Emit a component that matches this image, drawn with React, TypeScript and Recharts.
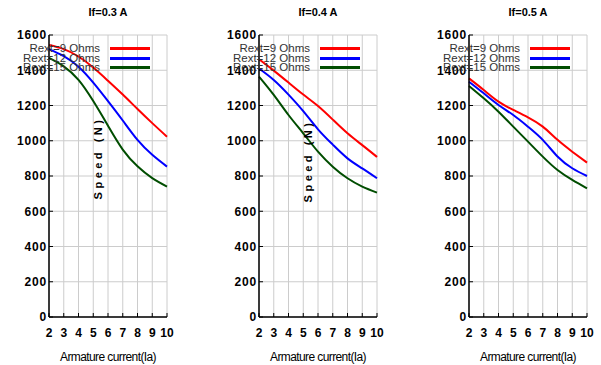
import React from 'react';
import { LineChart, Line, XAxis, YAxis, CartesianGrid, Legend } from 'recharts';

const currents = [2, 3, 4, 5, 6, 7, 8, 9, 10];
const seriesNames = ['Rext=9 Ohms', 'Rext=12 Ohms', 'Rext=15 Ohms'];
const seriesColors = ['#ff0000', '#0000ff', '#004d00'];
const panelTitles = ['If=0.3 A', 'If=0.4 A', 'If=0.5 A'];
const yTicks = [0, 200, 400, 600, 800, 1000, 1200, 1400, 1600];

const if03r9 = [1543, 1520, 1478, 1415, 1340, 1262, 1180, 1100, 1023];
const if03r12 = [1520, 1480, 1420, 1330, 1225, 1115, 1005, 920, 853];
const if03r15 = [1470, 1422, 1345, 1225, 1085, 950, 855, 788, 740];

const if04r9 = [1462, 1398, 1330, 1262, 1197, 1120, 1042, 975, 908];
const if04r12 = [1410, 1345, 1262, 1168, 1065, 978, 900, 843, 787];
const if04r15 = [1364, 1260, 1146, 1042, 938, 853, 787, 740, 706];

const if05r9 = [1354, 1288, 1222, 1175, 1133, 1080, 1005, 938, 876];
const if05r12 = [1335, 1269, 1203, 1146, 1080, 1005, 911, 844, 800];
const if05r15 = [1311, 1241, 1165, 1080, 995, 910, 834, 778, 730];

const panelSeries = [
  [if03r9, if03r12, if03r15],
  [if04r9, if04r12, if04r15],
  [if05r9, if05r12, if05r15],
];

const FONT = '"Liberation Sans", Arial, sans-serif';

function buildData(series: number[][]) {
  return currents.map((x, i) => ({ x, s0: series[0][i], s1: series[1][i], s2: series[2][i] }));
}

const LegendContent = () => (
  <div style={{ position: 'relative', width: 160, height: 32 }}>
    {seriesNames.map((name, i) => (
      <div key={name} style={{ position: 'absolute', top: i * 9.7, left: 0, width: 160, height: 12 }}>
        <div
          style={{
            position: 'absolute', left: 0, top: 0, width: 100, textAlign: 'right',
            fontFamily: FONT, fontSize: 11.5, color: '#333', lineHeight: '12px', whiteSpace: 'nowrap',
          }}
        >
          {name}
        </div>
        <div style={{ position: 'absolute', left: 110, top: 5, width: 40, height: 3, background: seriesColors[i] }} />
      </div>
    ))}
  </div>
);

const axisLine = { stroke: '#000', strokeWidth: 1.5 };
const tickLine = { stroke: '#000', strokeWidth: 1 };

const Panel = ({ idx, left }: { idx: number; left: number }) => {
  const data = buildData(panelSeries[idx]);
  return (
    <div style={{ position: 'absolute', left, top: 0 }}>
      <LineChart width={185} height={365} data={data} margin={{ top: 35, right: 18, left: 0, bottom: 0 }}>
        <CartesianGrid stroke="#cccccc" strokeWidth={1} vertical horizontal />
        <XAxis
          dataKey="x"
          type="number"
          domain={[2, 10]}
          ticks={currents}
          height={48}
          axisLine={axisLine}
          tickLine={tickLine}
          tickSize={-4}
          tickMargin={15}
          tick={{ fill: '#000', fontSize: 12, fontWeight: 'bold', fontFamily: FONT }}
          interval={0}
          label={{ value: 'Armature current(Ia)', position: 'insideBottom', offset: 4, fill: '#000', fontSize: 12, fontFamily: FONT, letterSpacing: -0.6 }}
        />
        <XAxis
          xAxisId="top"
          orientation="top"
          dataKey="x"
          type="number"
          domain={[2, 10]}
          ticks={currents}
          interval={0}
          height={0}
          tick={false}
          tickSize={-4}
          tickLine={tickLine}
          axisLine={axisLine}
        />
        <YAxis
          domain={[0, 1600]}
          ticks={yTicks}
          width={49}
          axisLine={axisLine}
          tickLine={tickLine}
          tickSize={-4}
          tickMargin={6}
          tick={{ fill: '#000', fontSize: 12, fontWeight: 'bold', fontFamily: FONT, letterSpacing: 0.8 }}
          interval={0}
        />
        <YAxis
          yAxisId="right"
          orientation="right"
          domain={[0, 1600]}
          ticks={yTicks}
          interval={0}
          width={0}
          tick={false}
          tickSize={-4}
          tickLine={tickLine}
          axisLine={axisLine}
        />
        <Legend
          verticalAlign="middle"
          align="center"
          layout="horizontal"
          content={<LegendContent />}
          wrapperStyle={{ position: 'absolute', left: 0, top: 42, width: 160, height: 32 }}
        />
        {seriesNames.map((name, i) => (
          <Line
            key={name}
            dataKey={`s${i}`}
            name={name}
            type="natural"
            stroke={seriesColors[i]}
            strokeWidth={2}
            dot={false}
            isAnimationActive={false}
          />
        ))}
      </LineChart>
    </div>
  );
};

export default function App() {
  const lefts = [0, 210, 420];
  return (
    <div style={{ position: 'fixed', left: 0, top: 0, width: 601, height: 365, background: '#fff', overflow: 'hidden' }}>
      {lefts.map((l, i) => (
        <Panel key={i} idx={i} left={l} />
      ))}
      {lefts.map((l, i) => (
        <div
          key={'t' + i}
          style={{ position: 'absolute', left: l + 49, width: 118, top: 6, textAlign: 'center', fontFamily: FONT, fontSize: 11, fontWeight: 'bold', color: '#000' }}
        >
          {panelTitles[i]}
        </div>
      ))}
      {[0, 1].map((i) => (
        <div
          key={'s' + i}
          style={{
            position: 'absolute', left: lefts[i] + 98 - 60, top: 152 + i * 3, width: 120, textAlign: 'center',
            transform: 'rotate(-90deg)', fontFamily: FONT, fontSize: 11, fontWeight: 'bold', letterSpacing: 3.5, color: '#000', lineHeight: '12px',
          }}
        >
          Speed (N)
        </div>
      ))}
    </div>
  );
}
